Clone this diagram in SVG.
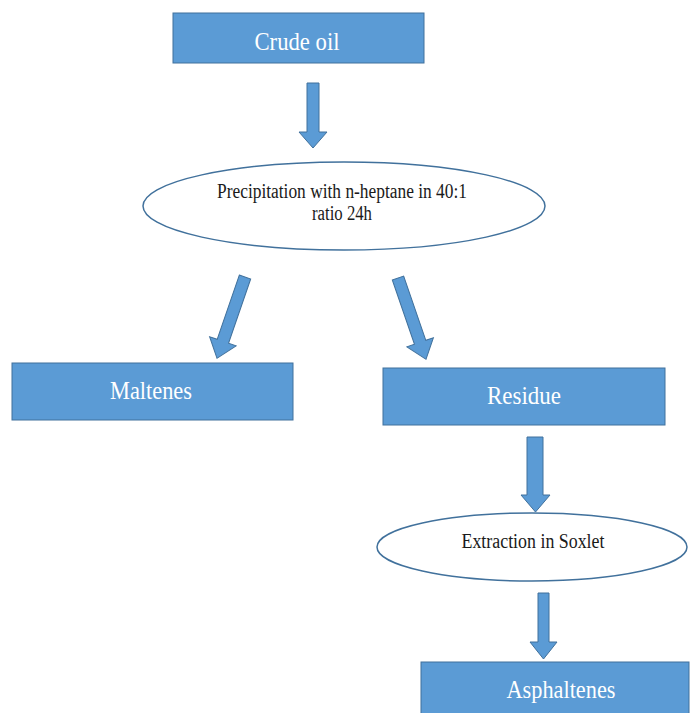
<svg xmlns="http://www.w3.org/2000/svg" width="690" height="713" viewBox="0 0 690 713">
<style>
.box{fill:#5b9bd5;stroke:#41719c;stroke-width:1}
.ell{fill:#ffffff;stroke:#41719c;stroke-width:1.5}
.arr{fill:#5b9bd5;stroke:#41719c;stroke-width:1}
.bt{font-family:"Liberation Serif","Times New Roman",serif;font-size:26px;fill:#ffffff;text-anchor:middle}
.et{font-family:"Liberation Serif","Times New Roman",serif;font-size:20px;fill:#1a1a1a;text-anchor:middle}
</style>
<defs>
<polygon id="darr" points="-6,0 6,0 6,68 14,68 0,86 -14,68 -6,68"/>
</defs>
<rect width="690" height="713" fill="#ffffff"/>
<g id="connectors">
<polygon class="arr" points="307,83 319,83 319,132 327,132 313,148 299,132 307,132"/>
<use href="#darr" class="arr" transform="translate(245,277) rotate(19)"/>
<use href="#darr" class="arr" transform="translate(398,278) rotate(-19)"/>
<polygon class="arr" points="527,437 543,437 543,495 550,495 535.5,512 521,495 527,495"/>
<polygon class="arr" points="538,593 549,593 549,642 557,642 543.5,659 530,642 538,642"/>
</g>
<g id="crude-oil">
<rect class="box" x="173" y="13" width="251" height="50"/>
<text class="bt" x="297" y="50" textLength="85" lengthAdjust="spacingAndGlyphs">Crude oil</text>
</g>
<g id="precipitation">
<ellipse class="ell" cx="344" cy="206" rx="201" ry="44"/>
<text class="et" x="342" y="198" textLength="250" lengthAdjust="spacingAndGlyphs">Precipitation with n-heptane in 40:1</text>
<text class="et" x="342" y="220" textLength="60" lengthAdjust="spacingAndGlyphs">ratio 24h</text>
</g>
<g id="maltenes">
<rect class="box" x="12" y="363" width="281" height="57"/>
<text class="bt" x="151" y="399" textLength="82" lengthAdjust="spacingAndGlyphs">Maltenes</text>
</g>
<g id="residue">
<rect class="box" x="383" y="368" width="282" height="57"/>
<text class="bt" x="524" y="404" textLength="74" lengthAdjust="spacingAndGlyphs">Residue</text>
</g>
<g id="extraction">
<ellipse class="ell" cx="532" cy="547" rx="155" ry="34"/>
<text class="et" x="533" y="548" font-size="17" textLength="143" lengthAdjust="spacingAndGlyphs">Extraction in Soxlet</text>
</g>
<g id="asphaltenes">
<rect class="box" x="421" y="662" width="268" height="56"/>
<text class="bt" x="561" y="698" textLength="109" lengthAdjust="spacingAndGlyphs">Asphaltenes</text>
</g>
</svg>
